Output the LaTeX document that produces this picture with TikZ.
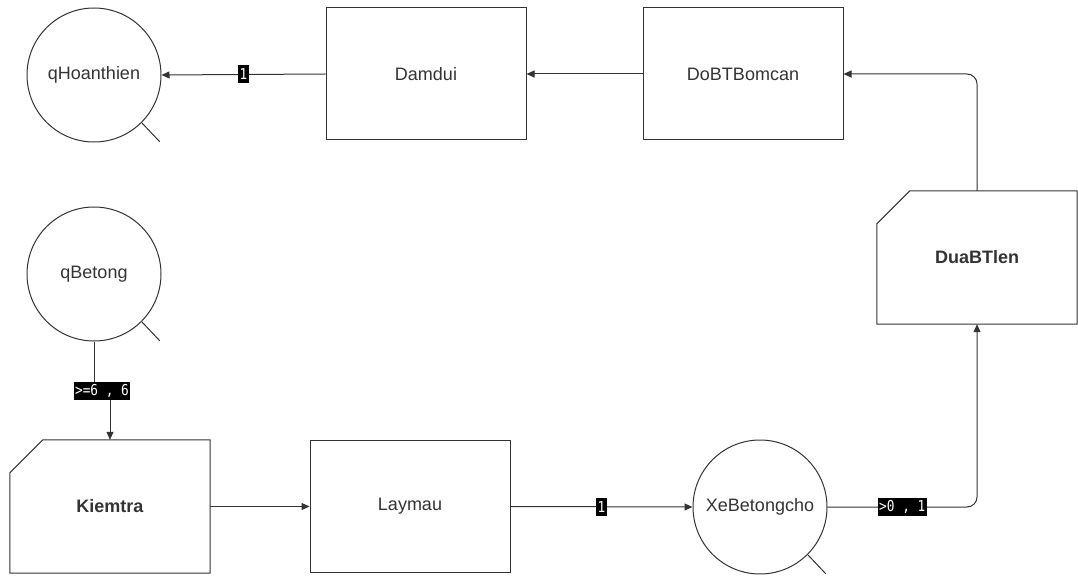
\documentclass[tikz,border=0pt]{standalone}
\usepackage{fontspec}
\setmainfont{Liberation Sans}
\newfontfamily\lblfont[FakeStretch=0.85]{DejaVu Sans Mono}
\usetikzlibrary{arrows.meta,calc}
\definecolor{ink}{HTML}{333333}
\tikzset{
  every node/.style={text=ink},
  basefont/.style={font=\fontsize{18}{21}\selectfont},
  stage/.style={draw=ink, line width=1pt, rectangle, minimum width=200pt, minimum height=132pt, inner sep=0pt, basefont},
  cutbox/.style={rectangle, minimum width=200pt, minimum height=133pt, inner sep=0pt, font=\fontsize{18}{21}\selectfont\bfseries},
  place/.style={draw=ink, line width=1pt, circle, minimum size=134pt, inner sep=0pt, basefont},
  wire/.style={draw=ink, line width=1pt},
  arr/.style={wire, -{Triangle[length=8pt,width=7pt]}},
  lbl/.style={fill=black, sharp corners, text=white, inner xsep=1.5pt, inner ysep=2pt, minimum height=18pt, font=\lblfont\fontsize{15}{17}\selectfont},
}
\newcommand{\cutoutline}[1]{%
  \draw[wire] ($(#1.north west)+(0,33)$) -- ($(#1.north west)+(33,0)$) -- (#1.north east)
    -- (#1.south east) -- (#1.south west) -- cycle;}
\begin{document}
\begin{tikzpicture}[x=1pt,y=-1pt]
  \useasboundingbox (0,0) rectangle (1078,577);

  % places (circles with a small tail)
  \node[place] (qH) at (94,75) {qHoanthien};
  \node[place] (qB) at (94,274) {qBetong};
  \node[place] (Xe) at (760,507) {XeBetongcho};
  \foreach \p in {qH,qB,Xe}
    \draw[wire] (\p.-45) -- ++(18,19);

  % plain stages
  \node[stage] (Dam) at (426,74) {Damdui};
  \node[stage] (DoBT) at (743,74) {DoBTBomcan};
  \node[stage] (Lay) at (410,506.5) {Laymau};

  % stages with a cut corner
  \node[cutbox] (Kiem) at (110,506.5) {Kiemtra};
  \node[cutbox] (Dua) at (977,257.5) {DuaBTlen};
  \cutoutline{Kiem}
  \cutoutline{Dua}

  % connectors
  \draw[arr] (Dam.west) -- node[lbl] {1} (qH.east);
  \draw[arr] (DoBT.west) -- (Dam.east);
  \draw[arr, rounded corners=10pt] (Dua.north) |- (DoBT.east);
  \draw[arr] (qB.south) |- ($(qB.south)!.5!(Kiem.north)$) node[lbl] {>=6 , 6} -| (Kiem.north);
  \draw[arr] (Kiem.east) -- (Lay.west);
  \draw[arr] (Lay.east) -- node[lbl] {1} (Xe.west);
  \draw[arr, rounded corners=10pt] (Xe.east) -| node[lbl, pos=0.25] {>0 , 1} (Dua.south);
\end{tikzpicture}
\end{document}
